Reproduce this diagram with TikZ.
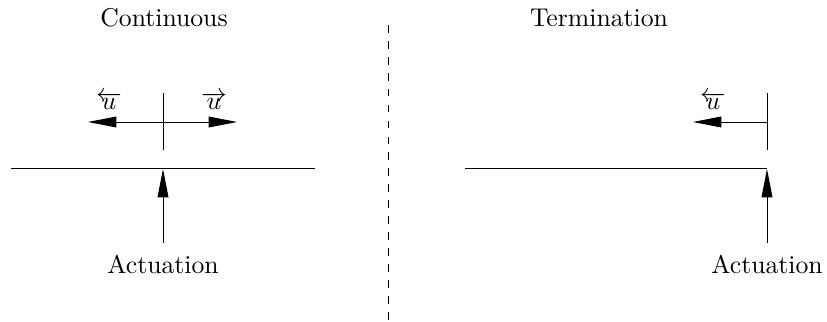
\documentclass[tikz,border=0pt]{standalone}
\usetikzlibrary{arrows.meta}
\begin{document}
\begin{tikzpicture}[x=0.389pt,y=-0.389pt,
  thin line/.style={line width=0.35pt},
  arr/.style={line width=0.35pt,-{Triangle[length=11pt,width=4.2pt]}},
  sep/.style={line width=0.35pt,dash pattern=on 3pt off 3.2pt},
  lbl/.style={inner sep=0pt},
  ulbl/.style={inner sep=0pt,anchor=base}]
\useasboundingbox (0,0) rectangle (827,322);

% titles
\node[lbl] (tc) at (164,18) {Continuous};
\node[lbl] (tt) at (599,18) {Termination};

% separator
\coordinate (s1) at (388,25);
\coordinate (s2) at (388,322);
\draw[sep] (s1) -- (s2);

% --- continuous case ---
\coordinate (la) at (11,168);
\coordinate (lb) at (315,168);
\draw[thin line] (la) -- (lb);
\coordinate (lt1) at (163,93);
\coordinate (lt2) at (163,150);
\draw[thin line] (lt1) -- (lt2);
\coordinate (lc) at (163,122);
\coordinate (ll) at (88,122);
\coordinate (lr) at (237,122);
\draw[arr] (lc) -- (ll);
\draw[arr] (lc) -- (lr);
\node[ulbl] (ul) at (109,110) {$\overleftarrow{u}$};
\node[ulbl] (ur) at (214,110) {$\overrightarrow{u}$};
\node[lbl] (al) at (163,264) {Actuation};
\coordinate (ls) at (163,243);
\coordinate (lup) at (163,169);
\draw[arr] (ls) -- (lup);

% --- termination case ---
\coordinate (ra) at (465,168);
\coordinate (rb) at (767,168);
\draw[thin line] (ra) -- (rb);
\coordinate (rt1) at (767,93);
\coordinate (rt2) at (767,150);
\draw[thin line] (rt1) -- (rt2);
\coordinate (rc) at (767,122);
\coordinate (rl) at (693,122);
\draw[arr] (rc) -- (rl);
\node[ulbl] (url) at (713,110) {$\overleftarrow{u}$};
\node[lbl] (ar) at (767,264) {Actuation};
\coordinate (rs) at (767,243);
\coordinate (rup) at (767,169);
\draw[arr] (rs) -- (rup);
\end{tikzpicture}
\end{document}
